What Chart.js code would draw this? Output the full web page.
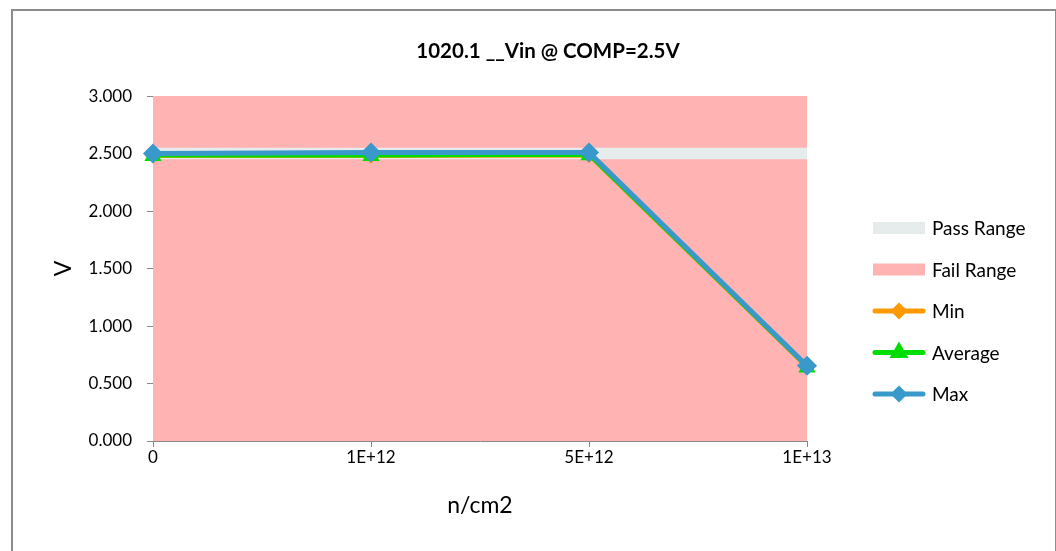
<!DOCTYPE html>
<html>
<head>
<meta charset="utf-8">
<script src="https://cdn.jsdelivr.net/npm/chart.js@4/dist/chart.umd.min.js"></script>
<style>
  html, body { margin: 0; padding: 0; background: #fff; overflow: hidden; }
  #wrap { position: relative; width: 1056px; height: 551px; }
  #frame { position: absolute; left: 11px; top: 9px; width: 1042px; height: 600px;
           border: 2px solid #8c8c8c; border-bottom: none; pointer-events: none; }
</style>
</head>
<body>
<div id="wrap">
  <canvas id="chart" width="1056" height="551"></canvas>
  <div id="frame"></div>
</div>
<script>
// chart values
const categories = ['0', '1E+12', '5E+12', '1E+13'];
const passLow = [2.45, 2.45, 2.45, 2.45];
const passHigh = [2.55, 2.55, 2.55, 2.55];
const failTop = [3, 3, 3, 3];
const minVals = [2.475, 2.475, 2.48, 0.635];
const avgVals = [2.48, 2.48, 2.485, 0.64];
const maxVals = [2.50, 2.51, 2.51, 0.655];

const FONT = 'Lato, "Open Sans", sans-serif';

// legend drawn to the right of the plot, Excel style
const sideLegend = {
    id: 'sideLegend',
    afterDraw(chart) {
        const ctx = chart.ctx;
        const x0 = 873, y0 = 228, step = 41.5, w = 52;
        const items = chart.data.datasets.filter(d => d.legend);
        ctx.save();
        items.forEach((ds, i) => {
            const y = y0 + i * step;
            if (ds.fill !== false) {
                ctx.fillStyle = ds.backgroundColor;
                ctx.fillRect(x0, y - 6, w, 12);
            } else {
                ctx.strokeStyle = ds.borderColor;
                ctx.lineWidth = 5;
                ctx.lineCap = 'round';
                ctx.beginPath();
                ctx.moveTo(x0 + 2, y);
                ctx.lineTo(x0 + w - 2, y);
                ctx.stroke();
                ctx.fillStyle = ds.pointBackgroundColor;
                ctx.strokeStyle = ds.pointBackgroundColor;
                Chart.helpers.drawPoint(ctx, {
                    pointStyle: ds.pointStyle, radius: ds.legendRadius, rotation: 0, borderWidth: 1
                }, x0 + w / 2, y);
            }
            ctx.fillStyle = '#000';
            ctx.font = '19px ' + FONT;
            ctx.textBaseline = 'middle';
            ctx.textAlign = 'left';
            ctx.fillText(ds.label, x0 + w + 7, y + 1);
        });
        ctx.restore();
    }
};

new Chart(document.getElementById('chart'), {
    type: 'line',
    data: {
        labels: categories,
        datasets: [
            {
                label: 'Pass Range', legend: true, data: passHigh, fill: 1,
                backgroundColor: '#e6ecec', borderWidth: 0, pointRadius: 0, order: 3
            },
            {
                label: '', data: passLow, fill: false,
                borderColor: 'rgba(0,0,0,0)', borderWidth: 0, pointRadius: 0, order: 3
            },
            {
                label: 'Fail Range', legend: true, data: failTop, fill: 'origin',
                backgroundColor: '#ffb3b3', borderWidth: 0, pointRadius: 0, order: 5
            },
            {
                label: 'Min', legend: true, data: minVals, fill: false,
                borderColor: '#ff9900', borderWidth: 3, pointStyle: 'rectRot',
                pointRadius: 5, legendRadius: 5, pointBackgroundColor: '#ff9900',
                pointBorderColor: '#ff9900', clip: false, order: 2
            },
            {
                label: 'Average', legend: true, data: avgVals, fill: false,
                borderColor: '#00dd00', borderWidth: 3, pointStyle: 'triangle',
                pointRadius: 7, legendRadius: 6, pointBackgroundColor: '#00dd00',
                pointBorderColor: '#00dd00', clip: false, order: 1
            },
            {
                label: 'Max', legend: true, data: maxVals, fill: false,
                borderColor: '#3a99cb', borderWidth: 5, pointStyle: 'rectRot',
                pointRadius: 6.5, legendRadius: 5, pointBackgroundColor: '#3a99cb',
                pointBorderColor: '#3a99cb', clip: false, order: 0
            }
        ]
    },
    options: {
        responsive: false,
        animation: false,
        layout: { padding: { left: 40, right: 0, top: 0, bottom: 0 } },
        plugins: {
            legend: { display: false },
            tooltip: { enabled: false },
            title: {
                display: true,
                text: '1020.1 __Vin @ COMP=2.5V',
                color: '#000',
                font: { family: FONT, size: 20.5, weight: 'bold' },
                padding: { top: 39.5, bottom: 32 }
            }
        },
        scales: {
            x: {
                offset: false,
                grid: { drawOnChartArea: false, color: '#888', tickLength: 6 },
                border: { color: '#888' },
                ticks: { color: '#000', font: { family: FONT, size: 17 }, padding: 0 },
                title: {
                    display: true, text: 'n/cm2', color: '#000',
                    font: { family: FONT, size: 23 }, padding: { top: 32, bottom: 32 }
                },
                afterFit(s) { s.height = 110; }
            },
            y: {
                min: 0, max: 3,
                grid: { drawOnChartArea: false, color: '#888', tickLength: 6 },
                border: { color: '#888' },
                ticks: {
                    stepSize: 0.5, color: '#000', padding: 15,
                    font: { family: FONT, size: 17 },
                    callback: v => v.toFixed(3)
                },
                title: {
                    display: true, text: 'V', color: '#000',
                    font: { family: FONT, size: 23 }, padding: { top: 10, bottom: 10 }
                },
                afterFit(s) { s.width = 113; }
            },
            // empty space on the right that holds the legend
            side: {
                type: 'linear', position: 'right', display: true,
                ticks: { display: false }, grid: { display: false },
                border: { display: false },
                afterFit(s) { s.width = 249; }
            }
        }
    },
    plugins: [sideLegend]
});
</script>
</body>
</html>
